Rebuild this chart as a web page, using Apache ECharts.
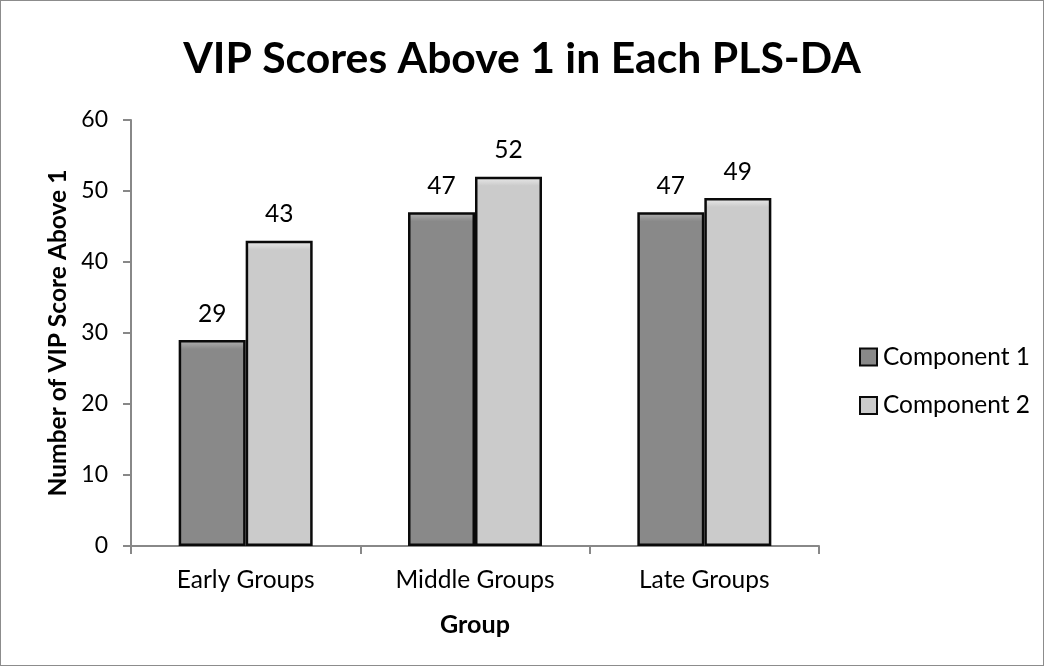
<!DOCTYPE html>
<html><head><meta charset="utf-8">
<script src="https://cdn.jsdelivr.net/npm/echarts@6/dist/echarts.min.js"></script>
<style>html,body{margin:0;padding:0;background:#fff}#c{width:1044px;height:666px;box-sizing:border-box;border:1px solid #8c8c8c}</style>
</head><body><div id="c"></div>
<script>
const categories = ['Early Groups', 'Middle Groups', 'Late Groups'];
const component1 = [29, 47, 47];
const component2 = [43, 52, 49];
const seriesNames = ['Component 1', 'Component 2'];
const yTicks = [0, 10, 20, 30, 40, 50, 60];
const titleText = 'VIP Scores Above 1 in Each PLS-DA';
const yName = 'Number of VIP Score Above 1';
const xName = 'Group';

const FONT = 'Lato';
const ctx = document.createElement('canvas').getContext('2d');
function fit(text, weight, target, fallback) {
  ctx.font = weight + ' 100px ' + FONT;
  const w = ctx.measureText(text).width;
  if (!w) return fallback;
  const s = 100 * target / w;
  return (s > fallback * 0.75 && s < fallback * 1.3) ? s : fallback;
}
const titleSize = fit(titleText, 'bold', 678, 42);
const catSize = fit(categories[0], 'normal', 138, 22.5);
const yNameSize = fit(yName, 'bold', 327, 24);
const legSize = fit(seriesNames[0], 'normal', 147, 22.5);
const xNameSize = fit(xName, 'bold', 70, 23);

// bevel look: light strip at the top of each bar
const yMax = yTicks[yTicks.length - 1];
const plotH = 666 - 119 - 119;
function bevel(v, light, base) {
  const k = Math.min(0.5, 9 / (v / yMax * plotH));
  return {type: 'linear', x: 0, y: 0, x2: 0, y2: 1, colorStops: [
    {offset: 0, color: light}, {offset: k, color: base}, {offset: 1, color: base}]};
}

const chart = echarts.init(document.getElementById('c'));
chart.setOption({
  animation: false,
  title: {text: titleText, left: 'center', top: 37, padding: 0,
    textStyle: {fontFamily: FONT, fontWeight: 'bold', fontSize: titleSize, lineHeight: titleSize, color: '#000'}},
  grid: {left: 130, right: 224, top: 119, bottom: 119},
  legend: {orient: 'vertical', left: 858, top: 344, padding: 0, itemGap: 24.5, itemWidth: 17, itemHeight: 17,
    icon: 'rect',
    textStyle: {fontFamily: FONT, fontSize: legSize, lineHeight: 24, color: '#000', padding: [0, 0, 0, 1]},
    data: seriesNames},
  xAxis: {type: 'category', data: categories, name: xName, nameLocation: 'middle', nameGap: 67,
    nameTextStyle: {fontFamily: FONT, fontWeight: 'bold', fontSize: xNameSize, lineHeight: 24, color: '#000'},
    axisLine: {lineStyle: {color: '#888888', width: 2}},
    axisTick: {show: true, length: 8, lineStyle: {color: '#888888', width: 2}},
    axisLabel: {fontFamily: FONT, fontSize: catSize, lineHeight: 23, color: '#000', margin: 23}},
  yAxis: {type: 'value', min: yTicks[0], max: yMax, interval: yTicks[1] - yTicks[0], name: yName,
    nameLocation: 'middle', nameGap: 61,
    nameTextStyle: {fontFamily: FONT, fontWeight: 'bold', fontSize: yNameSize, lineHeight: 24, color: '#000'},
    axisLine: {show: true, lineStyle: {color: '#888888', width: 2}},
    axisTick: {show: true, length: 8, lineStyle: {color: '#888888', width: 2}},
    splitLine: {show: false},
    axisLabel: {fontFamily: FONT, fontSize: 23, color: '#000', margin: 23}},
  series: [
    {name: seriesNames[0], type: 'bar', barWidth: 67, barGap: '0%',
      data: component1.map(v => ({value: v, itemStyle: {color: bevel(v, '#b4b4b4', '#898989')}})),
      itemStyle: {color: '#898989', borderColor: '#0a0a0a', borderWidth: 2.5},
      label: {show: true, position: 'top', distance: 14, fontFamily: FONT, fontSize: catSize, color: '#000'}},
    {name: seriesNames[1], type: 'bar', barWidth: 67, barGap: '0%',
      data: component2.map(v => ({value: v, itemStyle: {color: bevel(v, '#ececec', '#cbcbcb')}})),
      itemStyle: {color: '#cbcbcb', borderColor: '#0a0a0a', borderWidth: 2.5},
      label: {show: true, position: 'top', distance: 14, fontFamily: FONT, fontSize: catSize, color: '#000'}}
  ]
});
</script></body></html>
